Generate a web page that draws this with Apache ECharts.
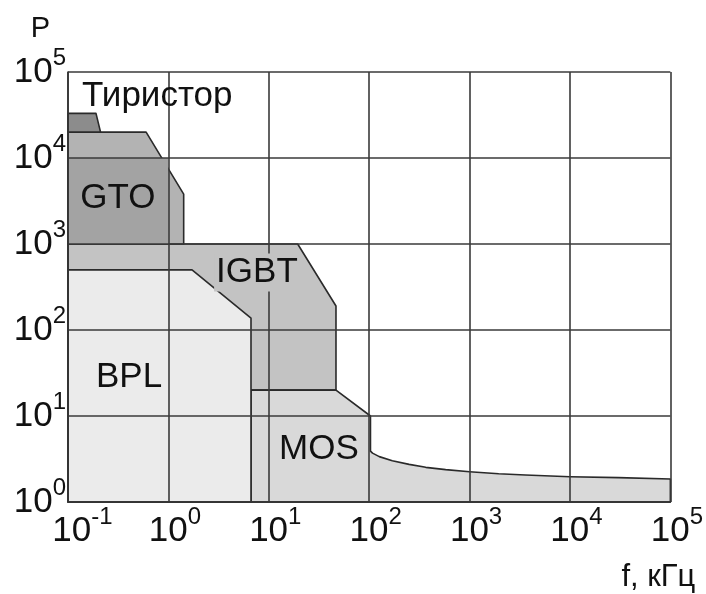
<!DOCTYPE html>
<html>
<head>
<meta charset="utf-8">
<script src="https://cdn.jsdelivr.net/npm/echarts@6/dist/echarts.min.js"></script>
<style>html,body{margin:0;padding:0;background:#fff}#c{width:706px;height:594px}</style>
</head>
<body>
<div id="c"></div>
<script>
// Tick label exponents
const xTickExp = ['-1', '0', '1', '2', '3', '4', '5'];
const yTickExp = ['0', '1', '2', '3', '4', '5'];

// Region outlines [f (kHz), P]
const igbtPts = [[0.1, 1], [0.1, 1000], [19.4, 1000], [46.7, 190], [46.7, 20], [6.65, 20], [6.65, 1]];
const mosPts = [[6.65, 1], [6.65, 20], [46.7, 20], [103, 10], [103, 3.9], [108, 3.7], [126, 3.37], [170, 3.02], [250, 2.74], [366, 2.53], [578, 2.38], [1000, 2.25], [1950, 2.13], [3600, 2.06], [10000, 1.97], [30400, 1.92], [100000, 1.85], [100000, 1]];
const bplPts = [[0.1, 1], [0.1, 500], [1.72, 500], [6.65, 137], [6.65, 1]];
const gtoPts = [[0.1, 1000], [0.1, 20000], [0.6, 20000], [1.42, 3800], [1.42, 1000]];
const gtoCorePts = [[0.1, 1000], [0.1, 10000], [1, 10000], [1, 1000]];
const thyristorPts = [[0.1, 20000], [0.1, 33000], [0.19, 33000], [0.211, 20000]];

// Region labels
const labelText = ['Тиристор', 'GTO', 'IGBT', 'BPL', 'MOS'];
const labelX = [0.774, 0.314, 7.62, 0.406, 31.6];
const labelY = [52000, 3400, 466, 28, 4.1];

const FONT = 'Liberation Sans';
const TXT = '#111111';
const EDGE = '#2a2a2a';

function polySeries(pts, fill, stroke, lw) {
  return {
    type: 'custom',
    coordinateSystem: 'cartesian2d',
    z: 2,
    silent: true,
    data: pts,
    renderItem: function (params, api) {
      if (params.dataIndex !== 0) return { type: 'group', children: [] };
      const points = pts.map(function (p) { return api.coord(p); });
      return {
        type: 'polygon',
        shape: { points: points },
        style: { fill: fill, stroke: stroke || null, lineWidth: lw || 0, lineJoin: 'round' }
      };
    }
  };
}

const colors = { igbt: '#c3c3c3', mos: '#d9d9d9', bpl: '#ebebeb', gto: '#b3b3b3', gtoCore: '#a3a3a3', thy: '#8c8c8c' };

const chart = echarts.init(document.getElementById('c'), null, { renderer: 'canvas' });
chart.setOption({
  animation: false,
  backgroundColor: '#fff',
  grid: { left: 68, top: 72, right: 34, bottom: 92 },
  xAxis: {
    type: 'log', logBase: 10, min: 0.1, max: 100000, splitNumber: 6, z: 10,
    name: 'f, кГц', nameLocation: 'end', nameGap: 25,
    nameTextStyle: { fontFamily: FONT, fontSize: 31, color: TXT, align: 'right', verticalAlign: 'top', padding: [60, 0, 0, 0] },
    axisLine: { show: true, onZero: false, lineStyle: { color: '#333', width: 1.6 } },
    axisTick: { show: false },
    minorTick: { show: false },
    splitLine: { show: true, lineStyle: { color: '#3a3a3a', width: 1.6 } },
    axisLabel: {
      margin: 3, showMinLabel: true, showMaxLabel: true,
      formatter: function (v) {
        const e = Math.round(Math.log10(v));
        const s = xTickExp[e + 1];
        return (e === -1 ? '{m|10}' : '{a|10}') + '{s|' + s + '}';
      },
      rich: {
        a: { fontFamily: FONT, fontSize: 35, lineHeight: 52, color: TXT, padding: [0, 0, 0, 13] },
        m: { fontFamily: FONT, fontSize: 35, lineHeight: 52, color: TXT, padding: [0, 0, 0, 29] },
        s: { fontFamily: FONT, fontSize: 24, lineHeight: 24, color: TXT, verticalAlign: 'top' }
      }
    }
  },
  yAxis: {
    type: 'log', logBase: 10, min: 1, max: 100000, splitNumber: 5, z: 10,
    name: 'P', nameLocation: 'end', nameGap: 29,
    nameTextStyle: { fontFamily: FONT, fontSize: 29, color: TXT, align: 'right', verticalAlign: 'bottom', padding: [0, 18, 0, 0] },
    axisLine: { show: true, onZero: false, lineStyle: { color: '#333', width: 1.6 } },
    axisTick: { show: false },
    minorTick: { show: false },
    splitLine: { show: true, lineStyle: { color: '#3a3a3a', width: 1.6 } },
    axisLabel: {
      margin: 2, showMinLabel: true, showMaxLabel: true,
      formatter: function (v) {
        const e = Math.round(Math.log10(v));
        return '{a|10}{s|' + yTickExp[e] + '}';
      },
      rich: {
        a: { fontFamily: FONT, fontSize: 35, lineHeight: 52, color: TXT },
        s: { fontFamily: FONT, fontSize: 24, lineHeight: 24, color: TXT, verticalAlign: 'top' }
      }
    }
  },
  series: [
    polySeries(igbtPts, colors.igbt, EDGE, 1.6),
    polySeries(mosPts, colors.mos, EDGE, 1.6),
    polySeries(bplPts, colors.bpl, EDGE, 1.6),
    polySeries(gtoPts, colors.gto, EDGE, 1.6),
    polySeries(gtoCorePts, colors.gtoCore, null, 0),
    polySeries(thyristorPts, colors.thy, EDGE, 1.6),
    {
      type: 'scatter', z: 20, silent: true,
      symbolSize: 1, itemStyle: { color: 'rgba(0,0,0,0)', opacity: 1 },
      data: labelText.map(function (t, i) {
        const item = { name: t, value: [labelX[i], labelY[i]] };
        if (t === 'IGBT') item.label = { backgroundColor: colors.igbt, lineHeight: 38, padding: [0, 2] };
        return item;
      }),
      label: {
        show: true, position: 'inside', formatter: '{b}',
        fontFamily: FONT, fontSize: 35, color: TXT, opacity: 1
      }
    }
  ]
});
</script>
</body>
</html>
